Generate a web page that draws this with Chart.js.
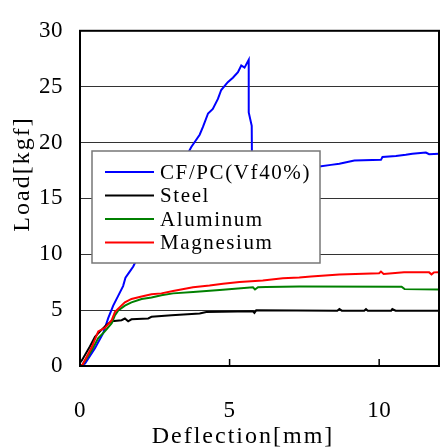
<!DOCTYPE html>
<html>
<head>
<meta charset="utf-8">
<script src="https://cdn.jsdelivr.net/npm/chart.js@4.4.1/dist/chart.umd.min.js"></script>
<style>
  html, body { margin: 0; padding: 0; background: #fff; }
  #wrap { width: 440px; height: 447px; }
</style>
</head>
<body>
<div id="wrap"><canvas id="c" width="440" height="447"></canvas></div>
<script>
// ---- data ----
const seriesNames = ['CF/PC(Vf40%)', 'Steel', 'Aluminum', 'Magnesium'];
const seriesColors = ['#0000ff', '#000000', '#008000', '#ff0000'];

const cfpcDeflection = [0, 0.17, 0.5, 0.78, 0.94, 1.11, 1.28, 1.44, 1.52, 1.65, 1.78, 3.56, 3.72, 4.0, 4.11, 4.28, 4.44, 4.61, 4.72, 4.94, 5.11, 5.28, 5.39, 5.5, 5.64, 5.64, 5.74, 5.75, 6.5, 8.0, 8.39, 8.67, 9.17, 10.06, 10.11, 10.56, 10.89, 11.11, 11.56, 11.67, 12];
const cfpcLoad       = [0, 0.23, 1.6, 2.97, 4.26, 5.4, 6.3, 7.15, 7.9, 8.4, 8.9, 18.8, 19.6, 20.7, 21.4, 22.6, 23.0, 23.9, 24.7, 25.4, 25.8, 26.3, 26.9, 26.7, 27.4, 22.7, 21.5, 17.6, 17.7, 17.85, 18.0, 18.1, 18.4, 18.45, 18.7, 18.8, 18.9, 19.0, 19.1, 18.95, 19.0];

const steelDeflection = [0, 0.06, 0.33, 0.5, 0.67, 0.89, 1.06, 1.39, 1.5, 1.61, 1.72, 2.28, 2.39, 3.06, 4.0, 4.22, 5.78, 5.83, 5.89, 8.6, 8.67, 8.75, 9.5, 9.56, 9.62, 10.4, 10.44, 10.55, 12];
const steelLoad       = [0.3, 0.5, 1.75, 2.6, 3.1, 3.7, 4.0, 4.1, 4.25, 4.0, 4.18, 4.26, 4.4, 4.55, 4.7, 4.84, 4.9, 4.75, 4.98, 4.95, 5.1, 4.95, 4.95, 5.1, 4.95, 4.95, 5.1, 4.95, 4.95];

const aluminumDeflection = [0, 0.08, 0.39, 0.61, 0.83, 1.06, 1.17, 1.28, 1.5, 1.72, 2.06, 2.39, 2.72, 3.11, 3.78, 4.67, 5.78, 5.85, 5.95, 6.22, 7.33, 10.75, 10.85, 12];
const aluminumLoad       = [0, 0.1, 1.38, 2.5, 3.1, 3.83, 4.55, 4.98, 5.4, 5.7, 6.0, 6.14, 6.34, 6.5, 6.62, 6.8, 7.05, 6.85, 7.05, 7.08, 7.12, 7.1, 6.88, 6.85];

const magnesiumDeflection = [0, 0.08, 0.39, 0.61, 0.83, 1.06, 1.17, 1.33, 1.5, 1.72, 2.06, 2.39, 2.72, 3.11, 3.78, 4.33, 4.78, 5.33, 6.11, 6.78, 7.33, 7.72, 8.67, 10.0, 10.06, 10.15, 10.83, 11.67, 11.75, 11.83, 12];
const magnesiumLoad       = [0, 0.1, 1.67, 3.1, 3.4, 4.1, 4.84, 5.27, 5.7, 6.0, 6.22, 6.42, 6.5, 6.71, 7.05, 7.2, 7.37, 7.52, 7.66, 7.86, 7.92, 8.0, 8.2, 8.3, 8.45, 8.24, 8.38, 8.38, 8.2, 8.38, 8.4];

const xTickValues = [0, 5, 10];
const yTickValues = [0, 5, 10, 15, 20, 25, 30];
const xTitle = 'Deflection[mm]';
const yTitle = 'Load[kgf]';

// ---- build ----
const FONT = "'Liberation Serif', 'Times New Roman', serif";
const seriesX = [cfpcDeflection, steelDeflection, aluminumDeflection, magnesiumDeflection];
const seriesY = [cfpcLoad, steelLoad, aluminumLoad, magnesiumLoad];
const drawOrder = [3, 2, 1, 0];

const datasets = seriesNames.map((name, i) => ({
  label: name,
  data: seriesX[i].map((x, j) => ({ x: x, y: seriesY[i][j] })),
  borderColor: seriesColors[i],
  backgroundColor: seriesColors[i],
  borderWidth: 2,
  pointRadius: 0,
  showLine: true,
  tension: 0,
  order: drawOrder[i]
}));

const textPlugin = {
  id: 'textStyle',
  beforeDraw(chart) { chart.ctx.letterSpacing = '0.5px'; }
};

const framePlugin = {
  id: 'frameLegend',
  afterDatasetsDraw(chart) {
    const ctx = chart.ctx;
    const a = chart.chartArea;
    const xs = chart.scales.x;
    ctx.save();
    // inward tick marks on x axis
    ctx.strokeStyle = '#000';
    ctx.lineWidth = 1.5;
    xTickValues.forEach(v => {
      const px = xs.getPixelForValue(v);
      ctx.beginPath();
      ctx.moveTo(px, a.bottom);
      ctx.lineTo(px, a.bottom - 7);
      ctx.stroke();
    });
    // frame
    ctx.lineWidth = 2;
    ctx.strokeRect(a.left, a.top, a.right - a.left, a.bottom - a.top);

    // legend box
    const bx = 92, by = 151, bw = 228, bh = 112;
    ctx.fillStyle = '#fff';
    ctx.fillRect(bx, by, bw, bh);
    ctx.strokeStyle = '#777';
    ctx.lineWidth = 1.5;
    ctx.strokeRect(bx, by, bw, bh);
    ctx.font = '21px ' + FONT;
    ctx.textBaseline = 'middle';
    ctx.textAlign = 'left';
    ctx.letterSpacing = '1.6px';
    chart.data.datasets.forEach((ds, i) => {
      const yy = 172 + i * 23.5;
      ctx.strokeStyle = ds.borderColor;
      ctx.lineWidth = 1.8;
      ctx.beginPath();
      ctx.moveTo(105, yy);
      ctx.lineTo(154, yy);
      ctx.stroke();
      ctx.fillStyle = '#000';
      ctx.fillText(ds.label, 160, yy + 1);
    });

    // axis titles
    ctx.letterSpacing = '2px';
    ctx.font = '24px ' + FONT;
    ctx.fillStyle = '#000';
    ctx.textAlign = 'center';
    ctx.textBaseline = 'alphabetic';
    ctx.fillText(xTitle, 243, 443);
    ctx.translate(29, 174);
    ctx.rotate(-Math.PI / 2);
    ctx.fillText(yTitle, 0, 0);
    ctx.restore();
  }
};

new Chart(document.getElementById('c'), {
  type: 'scatter',
  data: { datasets: datasets },
  options: {
    responsive: false,
    animation: false,
    devicePixelRatio: 1,
    layout: { padding: { top: 19, right: 1, left: 0, bottom: 0 } },
    plugins: { legend: { display: false }, tooltip: { enabled: false } },
    scales: {
      x: {
        type: 'linear', min: 0, max: 12,
        afterBuildTicks(s) { s.ticks = xTickValues.map(v => ({ value: v })); },
        afterFit(s) { s.height = 81; },
        ticks: { color: '#000', font: { family: FONT, size: 23 }, padding: 31, maxRotation: 0 },
        grid: { drawOnChartArea: false, drawTicks: false },
        border: { display: true, color: '#000', width: 2 }
      },
      y: {
        type: 'linear', min: 0, max: 30,
        afterBuildTicks(s) { s.ticks = yTickValues.map(v => ({ value: v })); },
        afterFit(s) { s.width = 80; },
        ticks: { color: '#000', font: { family: FONT, size: 23 }, padding: 17 },
        grid: { color: '#333', lineWidth: 1, drawTicks: false },
        border: { display: true, color: '#000', width: 2 }
      }
    }
  },
  plugins: [textPlugin, framePlugin]
});
</script>
</body>
</html>
